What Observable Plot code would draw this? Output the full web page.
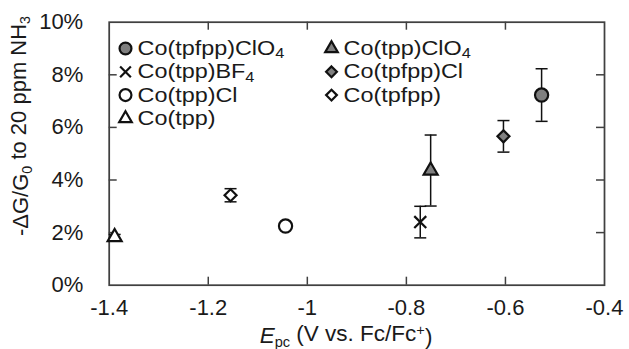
<!DOCTYPE html>
<html><head><meta charset="utf-8">
<script src="https://cdn.jsdelivr.net/npm/d3@7"></script>
<script src="https://cdn.jsdelivr.net/npm/@observablehq/plot@0.6"></script>
<style>
body{margin:0;background:#fff;}
#chart{width:629px;height:349px;}
svg text{font-family:"Liberation Sans", Arial, sans-serif;}
</style></head><body><div id="chart"></div>
<script>
// ---- data ----
const compounds = ["Co(tpfpp)ClO_4", "Co(tpp)ClO_4", "Co(tpp)BF_4", "Co(tpfpp)Cl", "Co(tpp)Cl", "Co(tpfpp)", "Co(tpp)"];
const epc       = [-0.527, -0.751, -0.772, -0.604, -1.044, -1.155, -1.389];
const response  = [7.23, 4.36, 2.40, 5.66, 2.25, 3.42, 1.83];
const errorBar  = [1.0, 1.35, 0.6, 0.6, 0.1, 0.25, 0.1];
const symbols   = ["circle", "triangle", "times", "diamond2", "circle", "diamond2", "triangle"];
const fills     = ["#7f7f7f", "#7f7f7f", "none", "#7f7f7f", "#ffffff", "#ffffff", "#ffffff"];
const legendCol1 = ["Co(tpfpp)ClO_4", "Co(tpp)BF_4", "Co(tpp)Cl", "Co(tpp)"];
const legendCol2 = ["Co(tpp)ClO_4", "Co(tpfpp)Cl", "Co(tpfpp)"];
const xTicks = [-1.4, -1.2, -1, -0.8, -0.6, -0.4];
const yTicks = [0, 2, 4, 6, 8, 10];

// ---- layout ----
const W = 629, H = 349;
const mL = 108.7, mR = 25, mT = 21.7, mB = 64.3;
const plotW = W - mL - mR, plotH = H - mT - mB;
const xDomain = [-1.4, -0.4], yDomain = [0, 10];
const ink = "#111";
const legendStretch = 1.17;

const data = compounds.map((c, i) => ({
  name: c, x: epc[i], y: response[i], e: errorBar[i], sym: symbols[i], fill: fills[i]
}));
const symR = {circle: 6.6, triangle: 5.2, times: 5.5, diamond2: 5.4};

// legend placed in data space from pixel layout
const xs = d3.scaleLinear(xDomain, [mL, W - mR]);
const ys = d3.scaleLinear(yDomain, [H - mB, mT]);
const colPx = [125, 331], rowPx = [48, 71.3, 94.6, 118];
const legend = [];
[legendCol1, legendCol2].forEach((col, ci) => col.forEach((name, ri) => {
  const d = data.find(v => v.name === name);
  legend.push({name, sym: d.sym, fill: d.fill,
    x: xs.invert(colPx[ci]), tx: xs.invert(colPx[ci] + 12), y: ys.invert(rowPx[ri])});
}));

const cap = {draw(ctx, size) { const w = Math.sqrt(size / Math.PI); ctx.moveTo(-w, 0); ctx.lineTo(w, 0); }};

const marks = [
  Plot.frame({stroke: "#404040", strokeWidth: 1.75}),
  Plot.tickX(xTicks.slice(1, -1), {x: d => d, insetTop: plotH - 8, stroke: "#404040", strokeWidth: 1.5}),
  Plot.tickX(xTicks.slice(1, -1), {x: d => d, insetBottom: plotH - 8, stroke: "#404040", strokeWidth: 1.5}),
  Plot.tickY(yTicks.slice(1, -1), {y: d => d, insetRight: plotW - 8, stroke: "#404040", strokeWidth: 1.5}),
  Plot.tickY(yTicks.slice(1, -1), {y: d => d, insetLeft: plotW - 8, stroke: "#404040", strokeWidth: 1.5}),
  Plot.axisX(xTicks, {tickSize: 0, tickPadding: 14, fontSize: 22, tickFormat: d => String(d), label: null}),
  Plot.axisY(yTicks, {tickSize: 0, tickPadding: 26, fontSize: 22, tickFormat: d => d + "%", label: null}),
  Plot.ruleX(data, {x: "x", y1: d => d.y - d.e, y2: d => d.y + d.e, stroke: ink, strokeWidth: 1.5}),
  Plot.dot(data, {x: "x", y: d => d.y - d.e, symbol: cap, r: 6, stroke: ink, strokeWidth: 1.5}),
  Plot.dot(data, {x: "x", y: d => d.y + d.e, symbol: cap, r: 6, stroke: ink, strokeWidth: 1.5}),
  ...data.map(d => Plot.dot([d], {x: "x", y: "y", symbol: d.sym, r: symR[d.sym], fill: d.fill, stroke: ink, strokeWidth: 2.2})),
  ...legend.map(d => Plot.dot([d], {x: "x", y: "y", symbol: d.sym, r: symR[d.sym] * 0.9, fill: d.fill, stroke: ink, strokeWidth: 2.2})),
  Plot.text(legend, {x: "tx", y: "y", text: "name", textAnchor: "start", fontSize: 20, fill: "#1a1a1a"})
];

const chart = Plot.plot({
  width: W, height: H,
  marginLeft: mL, marginRight: mR, marginTop: mT, marginBottom: mB,
  x: {domain: xDomain},
  y: {domain: yDomain},
  style: {fontFamily: "'Liberation Sans', Arial, sans-serif", color: "#1a1a1a", background: "#fff", overflow: "visible"},
  marks
});
document.getElementById("chart").appendChild(chart);

// legend labels: subscripts ("_x") and the reference's wide lettering
const svg = d3.select(chart);
const legendNames = new Set(legend.map(d => d.name));
svg.selectAll("text").each(function() {
  const el = d3.select(this);
  if (this.querySelector("tspan")) return;
  const t = this.textContent;
  if (!legendNames.has(t)) return;
  const tr = el.attr("transform");
  if (tr) el.attr("transform", tr + ` scale(${legendStretch},1)`);
  if (!t.includes("_")) return;
  el.text(null);
  const parts = t.split(/_(\w)/);
  parts.forEach((p, i) => {
    if (!p) return;
    if (i % 2 === 1) el.append("tspan").attr("dy", "0.25em").attr("font-size", "0.7em").text(p);
    else el.append("tspan").attr("dy", i === 0 ? null : "-0.25em").text(p);
  });
});

// axis titles
const yl = svg.append("text")
  .attr("transform", `translate(28,${126}) rotate(-90)`)
  .attr("text-anchor", "middle").attr("font-size", 22).attr("fill", "#1a1a1a");
yl.append("tspan").text("-ΔG/G");
yl.append("tspan").attr("dy", "0.3em").attr("font-size", "0.65em").text("0");
yl.append("tspan").attr("dy", "-0.3em").text(" to 20 ppm NH");
yl.append("tspan").attr("dy", "0.3em").attr("font-size", "0.65em").text("3");

const xl = svg.append("text")
  .attr("x", 346).attr("y", 343)
  .attr("text-anchor", "middle").attr("font-size", 22.5).attr("fill", "#1a1a1a");
xl.append("tspan").attr("font-style", "italic").text("E");
xl.append("tspan").attr("dy", "0.3em").attr("font-size", "0.65em").text("pc");
xl.append("tspan").attr("dy", "-0.3em").text(" (V vs. Fc/Fc");
xl.append("tspan").attr("dy", "-0.4em").attr("font-size", "0.65em").text("+");
xl.append("tspan").attr("dy", "0.4em").text(")");
</script></body></html>
